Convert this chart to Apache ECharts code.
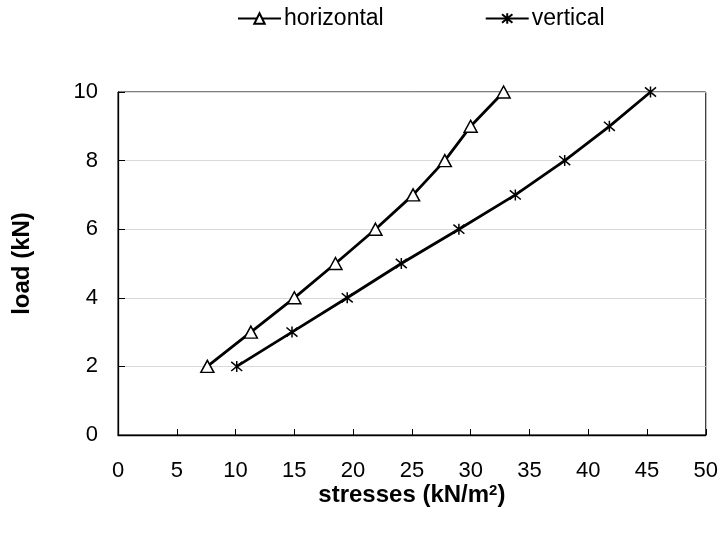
<!DOCTYPE html>
<html>
<head>
<meta charset="utf-8">
<script src="https://cdn.jsdelivr.net/npm/echarts@6/dist/echarts.min.js"></script>
<style>
  html, body { margin: 0; padding: 0; background: #fff; }
  #chart { width: 721px; height: 534px; }
</style>
</head>
<body>
<div id="chart"></div>
<script>
// Load levels (kN) and measured stresses (kN/m²)
const loads = [2, 3, 4, 5, 6, 7, 8, 9, 10];
const horizontalStress = [7.6, 11.3, 15.0, 18.5, 21.9, 25.1, 27.8, 30.0, 32.8];
const verticalStress = [10.1, 14.8, 19.5, 24.1, 29.0, 33.8, 38.0, 41.8, 45.3];
const xTicks = [0, 5, 10, 15, 20, 25, 30, 35, 40, 45, 50];
const yTicks = [0, 2, 4, 6, 8, 10];

const FONT = '"Liberation Sans", Arial, sans-serif';
const starPath = 'path://M0,0L10,10M10,0L0,10M5,-1L5,11';

function pairs(xs, ys) {
  return xs.map((x, i) => [x, ys[i]]);
}

const chart = echarts.init(document.getElementById('chart'));
chart.setOption({
  backgroundColor: '#fff',
  animation: false,
  legend: {
    top: 2,
    left: 232,
    itemGap: 101,
    itemWidth: 43,
    itemHeight: 13,
    textStyle: { fontFamily: FONT, fontSize: 23, color: '#000', padding: [0, 0, 0, -2] },
    data: ['horizontal', 'vertical']
  },
  grid: {
    left: 118, right: 15, top: 92, bottom: 99,
    show: true, borderColor: '#000', borderWidth: 1
  },
  xAxis: {
    type: 'value',
    min: xTicks[0], max: xTicks[xTicks.length - 1], interval: 5,
    name: 'stresses (kN/m{sup|2})',
    nameLocation: 'middle',
    nameGap: 48,
    nameMoveOverlap: false,
    nameTextStyle: {
      fontFamily: FONT, fontSize: 24, fontWeight: 'bold', color: '#000',
      rich: { sup: { fontSize: 15, fontWeight: 'bold', verticalAlign: 'top', padding: [0, 0, 10, 0], fontFamily: FONT } }
    },
    axisLine: { show: true, lineStyle: { color: '#000', width: 1.3 } },
    axisTick: { show: true, inside: true, length: 6, lineStyle: { color: '#000' } },
    axisLabel: { fontFamily: FONT, fontSize: 22, color: '#000', margin: 25 },
    splitLine: { show: false }
  },
  yAxis: {
    type: 'value',
    min: yTicks[0], max: yTicks[yTicks.length - 1], interval: 2,
    name: 'load (kN)',
    nameLocation: 'middle',
    nameGap: 84,
    nameMoveOverlap: false,
    nameTextStyle: { fontFamily: FONT, fontSize: 24, fontWeight: 'bold', color: '#000' },
    axisLine: { show: true, lineStyle: { color: '#000', width: 1.3 } },
    axisTick: { show: true, inside: true, length: 7, lineStyle: { color: '#000' } },
    axisLabel: { fontFamily: FONT, fontSize: 22, color: '#000', margin: 20 },
    splitLine: { show: true, lineStyle: { color: '#d9d9d9', width: 1 } }
  },
  series: [
    {
      name: 'horizontal',
      type: 'line',
      data: pairs(horizontalStress, loads),
      symbol: 'triangle',
      symbolSize: [13, 12],
      lineStyle: { color: '#000', width: 2.8 },
      itemStyle: { color: '#fff', borderColor: '#000', borderWidth: 1.5 },
      z: 3
    },
    {
      name: 'vertical',
      type: 'line',
      data: pairs(verticalStress, loads),
      symbol: starPath,
      symbolSize: 11,
      lineStyle: { color: '#000', width: 2.8 },
      itemStyle: { color: '#000', borderColor: '#000', borderWidth: 1.5 },
      z: 3
    }
  ]
});
</script>
</body>
</html>
